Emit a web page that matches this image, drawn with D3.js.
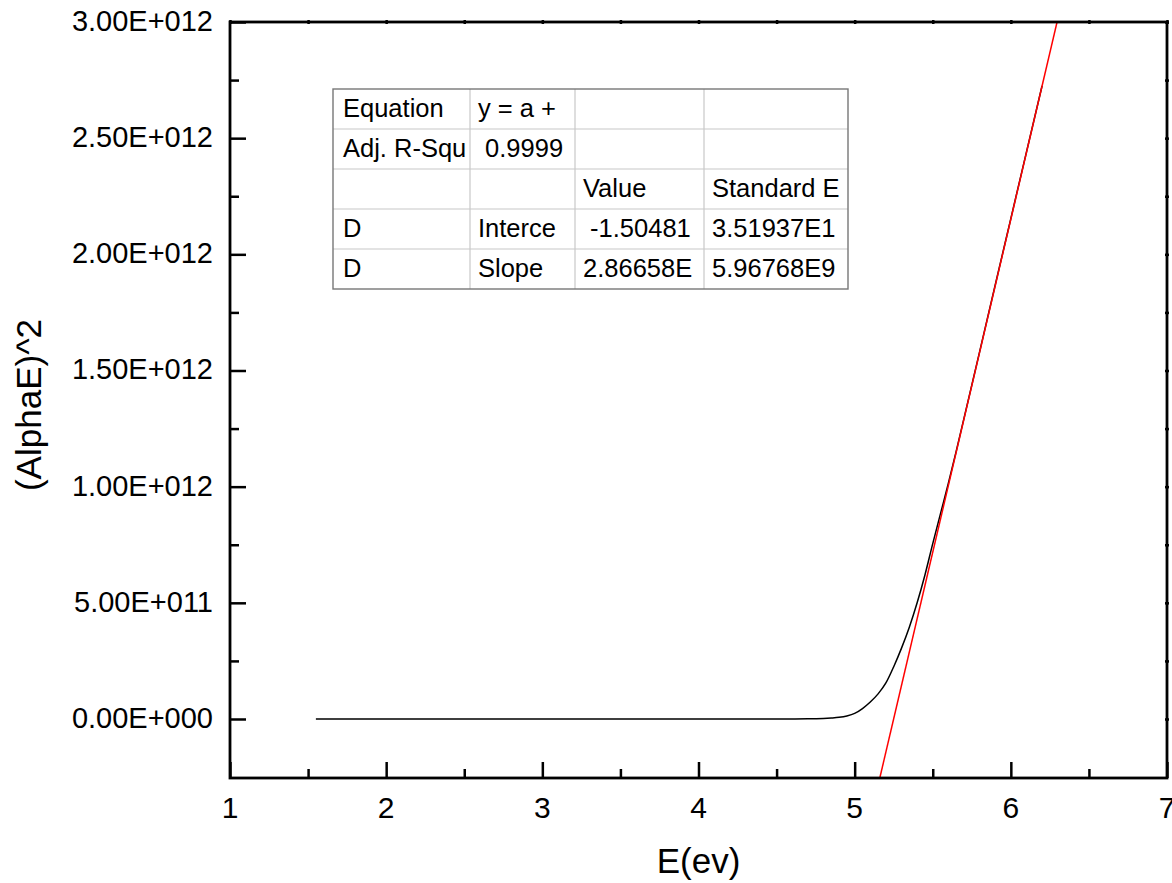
<!DOCTYPE html>
<html>
<head>
<meta charset="utf-8">
<script src="https://cdn.jsdelivr.net/npm/d3@7"></script>
<style>
  html, body { margin: 0; padding: 0; background: #fff; }
  svg { display: block; font-family: "Liberation Sans", Arial, sans-serif; }
  .cell { white-space: pre; }
</style>
</head>
<body>
<svg id="chart" width="1172" height="883"></svg>
<script>
// Tauc plot: photon energy vs (alpha*E)^2
const energy = [1.55, 2.0, 2.5, 3.0, 3.5, 4.0, 4.5, 4.7, 4.8, 4.85, 4.9, 4.95, 5.0, 5.05, 5.1, 5.15,
                5.2, 5.25, 5.3, 5.35, 5.4, 5.45, 5.5, 5.55, 5.6, 5.65, 5.7, 5.8, 5.9, 6.0, 6.1, 6.2];
const alphaE2 = [0, 0, 0, 0, 0, 0, 0, 0.0005e12, 0.002e12, 0.004e12, 0.007e12, 0.013e12, 0.024e12,
                 0.045e12, 0.073e12, 0.108e12, 0.155e12, 0.225e12, 0.305e12, 0.395e12, 0.5e12,
                 0.62e12, 0.755e12, 0.885e12, 1.015e12, 1.152e12, 1.294e12, 1.58e12, 1.868e12,
                 2.154e12, 2.44e12, 2.725e12];

// Linear fit y = a + b*x
const fitIntercept = -1.50481e13;
const fitSlope = 2.86658e12;
const fitRange = [5.0, 6.5];

// Axis ticks
const xMajorTicks = [1, 2, 3, 4, 5, 6, 7];
const xMinorTicks = [1.5, 2.5, 3.5, 4.5, 5.5, 6.5];
const yMajorTicks = [0, 0.5e12, 1.0e12, 1.5e12, 2.0e12, 2.5e12, 3.0e12];
const yMajorLabels = ["0.00E+000", "5.00E+011", "1.00E+012", "1.50E+012", "2.00E+012", "2.50E+012", "3.00E+012"];
const yMinorTicks = [0.25e12, 0.75e12, 1.25e12, 1.75e12, 2.25e12, 2.75e12];

// Fit results table
const tableRows = [
  ["Equation", "y = a +", "", ""],
  ["Adj. R-Squ", " 0.9999", "", ""],
  ["", "", "Value", "Standard E"],
  ["D", "Interce", " -1.50481", "3.51937E1"],
  ["D", "Slope", "2.86658E", "5.96768E9"]
];

const svg = d3.select("#chart");
const plot = { left: 230, right: 1167, top: 22, bottom: 778 };

const x = d3.scaleLinear().domain([1, 7]).range([plot.left, plot.right]);
const y = d3.scaleLinear().domain([-0.254e12, 3e12]).range([plot.bottom, plot.top]);

svg.append("rect").attr("width", 1172).attr("height", 883).attr("fill", "#fff");

svg.append("defs").append("clipPath").attr("id", "plotClip")
  .append("rect")
  .attr("x", plot.left).attr("y", plot.top)
  .attr("width", plot.right - plot.left).attr("height", plot.bottom - plot.top);

// Data curve
const curve = d3.line()
  .x((d, i) => x(energy[i]))
  .y((d, i) => y(alphaE2[i]))
  .curve(d3.curveMonotoneX);

svg.append("path")
  .attr("clip-path", "url(#plotClip)")
  .attr("d", curve(energy))
  .attr("fill", "none")
  .attr("stroke", "#000")
  .attr("stroke-width", 1.5);

// Fitted line
const fitLine = d3.line()
  .x(d => x(d))
  .y(d => y(fitIntercept + fitSlope * d));

svg.append("path")
  .attr("clip-path", "url(#plotClip)")
  .attr("d", fitLine(fitRange))
  .attr("fill", "none")
  .attr("stroke", "#ff0000")
  .attr("stroke-width", 1.5);

// Axes (ticks pointing inward)
const axisW = 2.8;
const xAxisMajor = d3.axisBottom(x).tickValues(xMajorTicks).tickSize(-16).tickFormat("");
const xAxisMinor = d3.axisBottom(x).tickValues(xMinorTicks).tickSize(-9).tickFormat("");
const yAxisMajor = d3.axisLeft(y).tickValues(yMajorTicks).tickSize(-16).tickFormat("");
const yAxisMinor = d3.axisLeft(y).tickValues(yMinorTicks).tickSize(-9).tickFormat("");

function styleAxis(g) {
  g.select(".domain").remove();
  g.selectAll(".tick line").attr("stroke", "#000").attr("stroke-width", 2.5);
}

svg.append("g").attr("transform", `translate(0,${plot.bottom})`).call(xAxisMajor).call(styleAxis);
svg.append("g").attr("transform", `translate(0,${plot.bottom})`).call(xAxisMinor).call(styleAxis);
svg.append("g").attr("transform", `translate(${plot.left},0)`).call(yAxisMajor).call(styleAxis);
svg.append("g").attr("transform", `translate(${plot.left},0)`).call(yAxisMinor).call(styleAxis);

// Small marks on the top and right frame lines
const xAll = xMajorTicks.concat(xMinorTicks);
const yAll = yMajorTicks.concat(yMinorTicks);
svg.append("g").attr("transform", `translate(0,${plot.top + 2})`)
  .call(d3.axisTop(x).tickValues(xAll).tickSize(4).tickFormat("")).call(styleAxis);
svg.append("g").attr("transform", `translate(${plot.right - 2},0)`)
  .call(d3.axisRight(y).tickValues(yAll).tickSize(4).tickFormat("")).call(styleAxis);

// Frame
svg.append("rect")
  .attr("x", plot.left).attr("y", plot.top)
  .attr("width", plot.right - plot.left).attr("height", plot.bottom - plot.top)
  .attr("fill", "none").attr("stroke", "#000").attr("stroke-width", axisW);

// Tick labels
svg.append("g").selectAll("text").data(xMajorTicks).join("text")
  .attr("x", d => x(d)).attr("y", 818)
  .attr("text-anchor", "middle")
  .attr("font-size", 30)
  .text(d => d);

svg.append("g").selectAll("text").data(yMajorTicks).join("text")
  .attr("x", 213).attr("y", d => y(d) + 9)
  .attr("text-anchor", "end")
  .attr("font-size", 29)
  .text((d, i) => yMajorLabels[i]);

// Axis titles
svg.append("text")
  .attr("x", (plot.left + plot.right) / 2).attr("y", 873)
  .attr("text-anchor", "middle")
  .attr("font-size", 35)
  .text("E(ev)");

svg.append("text")
  .attr("transform", `translate(41,${(plot.top + plot.bottom) / 2 + 5}) rotate(-90)`)
  .attr("text-anchor", "middle")
  .attr("font-size", 35)
  .text("(AlphaE)^2");

// Fit results table
const tbl = { left: 333, top: 89, rowH: 40, cols: [333, 470, 575, 704, 848] };
const tableG = svg.append("g");
const nRows = tableRows.length;
const tblBottom = tbl.top + nRows * tbl.rowH;

tableG.append("rect")
  .attr("x", tbl.left).attr("y", tbl.top)
  .attr("width", tbl.cols[4] - tbl.left).attr("height", tblBottom - tbl.top)
  .attr("fill", "#fff");

const defs = svg.select("defs");
tableRows.forEach((row, r) => {
  row.forEach((txt, c) => {
    const cx0 = tbl.cols[c], cx1 = tbl.cols[c + 1];
    const cy0 = tbl.top + r * tbl.rowH;
    const id = `cell-${r}-${c}`;
    defs.append("clipPath").attr("id", id).append("rect")
      .attr("x", cx0 + 1).attr("y", cy0).attr("width", cx1 - cx0 - 2).attr("height", tbl.rowH);
    tableG.append("text")
      .attr("class", "cell")
      .attr("clip-path", `url(#${id})`)
      .attr("x", cx0 + (c === 0 ? 10 : 8)).attr("y", cy0 + 28)
      .attr("font-size", 25.5)
      .text(txt);
  });
});

// Inner grid lines
for (let r = 1; r < nRows; r++) {
  tableG.append("line")
    .attr("x1", tbl.left).attr("x2", tbl.cols[4])
    .attr("y1", tbl.top + r * tbl.rowH).attr("y2", tbl.top + r * tbl.rowH)
    .attr("stroke", "#c8c8c8").attr("stroke-width", 1.2);
}
for (let c = 1; c < 4; c++) {
  tableG.append("line")
    .attr("x1", tbl.cols[c]).attr("x2", tbl.cols[c])
    .attr("y1", tbl.top).attr("y2", tblBottom)
    .attr("stroke", "#c8c8c8").attr("stroke-width", 1.2);
}
tableG.append("rect")
  .attr("x", tbl.left).attr("y", tbl.top)
  .attr("width", tbl.cols[4] - tbl.left).attr("height", tblBottom - tbl.top)
  .attr("fill", "none").attr("stroke", "#777").attr("stroke-width", 1.4);
</script>
</body>
</html>
